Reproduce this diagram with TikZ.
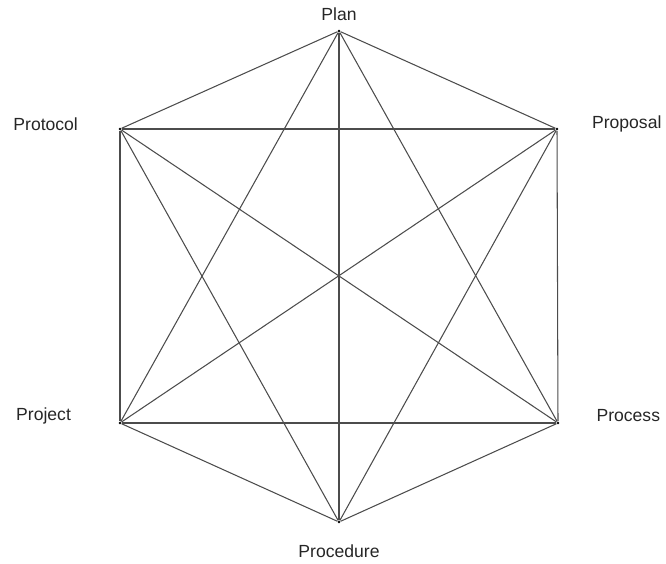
\documentclass[tikz,border=0pt]{standalone}
\usepackage{fontspec}
\setmainfont{Liberation Sans}
\usepackage{tikz}
\usetikzlibrary{positioning}

\begin{document}
\begin{tikzpicture}[
    x=0.02cm, y=-0.02cm,
    vertex/.style={circle, fill=black, inner sep=0pt, minimum size=1.6pt},
    vlabel/.style={inner sep=0pt, font=\fontsize{10}{12}\selectfont, text=black!85},
    edge/.style={line width=0.6pt, draw=black!70},
]
    \useasboundingbox (0,0) rectangle (666,564);

    \node[vertex] at (339,31) (plan) {};
    \node[vertex] at (120,129) (protocol) {};
    \node[vertex] at (557,129) (proposal) {};
    \node[vertex] at (120,423) (project) {};
    \node[vertex] at (558,423) (process) {};
    \node[vertex] at (339,522) (procedure) {};

    \node[vlabel, above=0.17cm of plan] (plan_lbl) {Plan};
    \node[vlabel, left=0.8cm of protocol, yshift=0.1cm] (protocol_lbl) {Protocol};
    \node[vlabel, right=0.66cm of proposal, yshift=0.1cm] (proposal_lbl) {Proposal};
    \node[vlabel, left=0.94cm of project, yshift=0.14cm] (project_lbl) {Project};
    \node[vlabel, right=0.73cm of process, yshift=0.14cm] (process_lbl) {Process};
    \node[vlabel, below=0.42cm of procedure] (procedure_lbl) {Procedure};

    % outer hexagon
    \draw[edge] (plan) -- (proposal);
    \draw[edge] (proposal) -- (process);
    \draw[edge] (process) -- (procedure);
    \draw[edge] (procedure) -- (project);
    \draw[edge] (project) -- (protocol);
    \draw[edge] (protocol) -- (plan);

    % two triangles
    \draw[edge] (plan) -- (process);
    \draw[edge] (process) -- (project);
    \draw[edge] (project) -- (plan);
    \draw[edge] (protocol) -- (proposal);
    \draw[edge] (proposal) -- (procedure);
    \draw[edge] (procedure) -- (protocol);

    % long diagonals
    \draw[edge] (plan) -- (procedure);
    \draw[edge] (protocol) -- (process);
    \draw[edge] (proposal) -- (project);
\end{tikzpicture}
\end{document}
